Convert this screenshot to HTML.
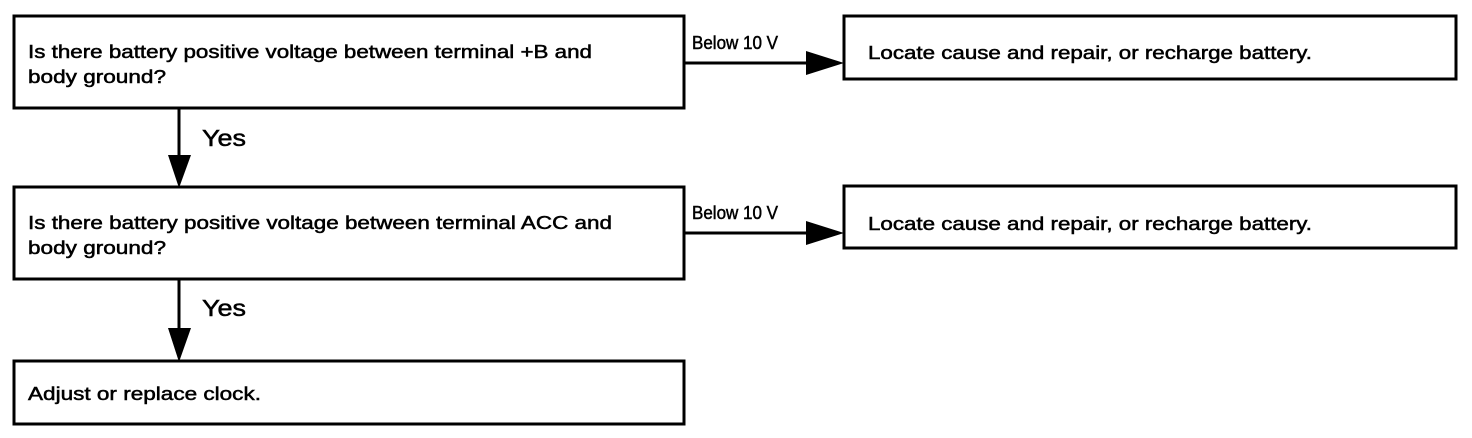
<!DOCTYPE html>
<html><head><meta charset="utf-8"><style>
html,body{margin:0;padding:0;background:#fff;}
svg{display:block;}
text{font-family:"Liberation Sans",sans-serif;font-size:18px;fill:#000;stroke:#000;stroke-width:0.5;}
</style></head><body>
<svg width="1472" height="438" viewBox="0 0 1472 438" xmlns="http://www.w3.org/2000/svg">
<g fill="none" stroke="#000" stroke-width="3">
<rect x="14" y="16" width="670" height="92"/>
<rect x="14" y="187" width="670" height="92"/>
<rect x="14" y="361" width="670" height="63"/>
<rect x="844" y="16" width="612" height="63"/>
<rect x="844" y="186" width="612" height="62"/>
<line x1="179" y1="108" x2="179" y2="160"/>
<line x1="179" y1="279" x2="179" y2="333"/>
<line x1="684" y1="63" x2="812" y2="63"/>
<line x1="684" y1="233" x2="812" y2="233"/>
</g>
<g fill="#000">
<polygon points="168,155 191,155 179,188"/>
<polygon points="168,328 191,328 179,362"/>
<polygon points="806,51 806,75 844,63"/>
<polygon points="806,221 806,245 844,233"/>
</g>
<text x="28" y="58" textLength="564" lengthAdjust="spacingAndGlyphs">Is there battery positive voltage between terminal +B and</text>
<text x="28" y="83" textLength="138" lengthAdjust="spacingAndGlyphs">body ground?</text>
<text x="28" y="229" textLength="584" lengthAdjust="spacingAndGlyphs">Is there battery positive voltage between terminal ACC and</text>
<text x="28" y="254" textLength="138" lengthAdjust="spacingAndGlyphs">body ground?</text>
<text x="28" y="400" textLength="233" lengthAdjust="spacingAndGlyphs">Adjust or replace clock.</text>
<text x="868" y="59" textLength="444" lengthAdjust="spacingAndGlyphs">Locate cause and repair, or recharge battery.</text>
<text x="868" y="230" textLength="444" lengthAdjust="spacingAndGlyphs">Locate cause and repair, or recharge battery.</text>
<text x="692" y="49" textLength="86" lengthAdjust="spacingAndGlyphs">Below 10 V</text>
<text x="692" y="219" textLength="86" lengthAdjust="spacingAndGlyphs">Below 10 V</text>
<text x="202" y="146" style="font-size:23px" textLength="44" lengthAdjust="spacingAndGlyphs">Yes</text>
<text x="202" y="316" style="font-size:23px" textLength="44" lengthAdjust="spacingAndGlyphs">Yes</text>
</svg>
</body></html>
